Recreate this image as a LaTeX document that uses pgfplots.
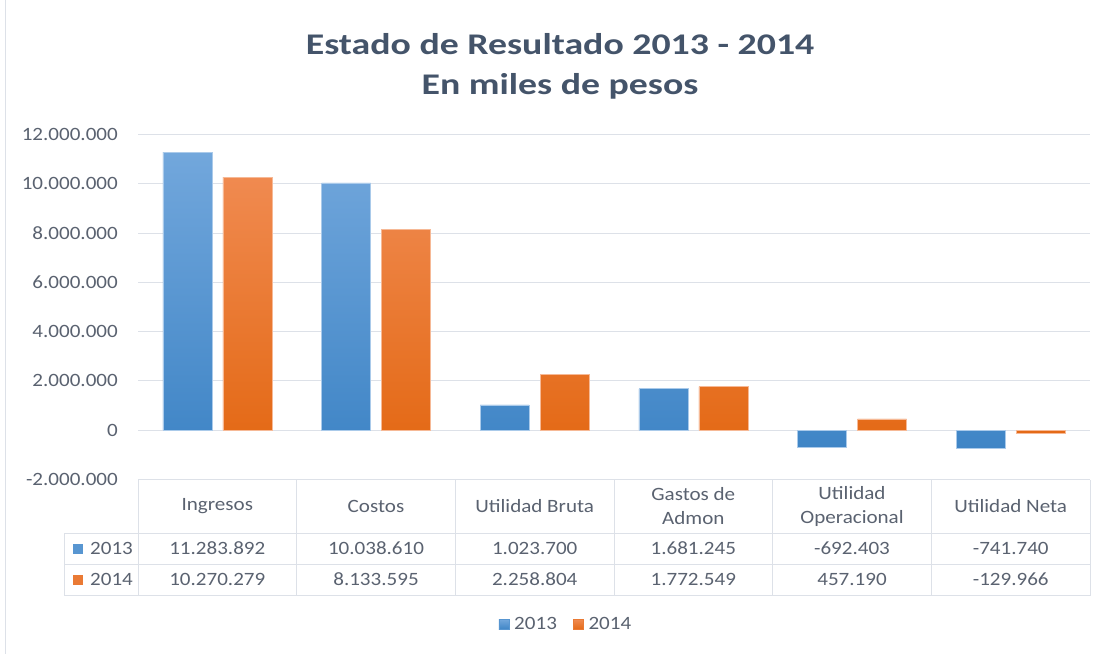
\documentclass[border=0pt]{standalone}
\usepackage{pgfplots}
\pgfplotsset{compat=1.18}
\usepackage{fontspec}
\setmainfont{Carlito}[FakeStretch=1.12]
\newfontfamily\titlefont{Carlito}[FakeStretch=1.26]
\definecolor{titlec}{HTML}{44546A}
\definecolor{textc}{HTML}{5A6270}
\definecolor{gridc}{HTML}{DDE1E8}
\definecolor{atop}{HTML}{72A7DC}
\definecolor{abot}{HTML}{3F85C6}
\definecolor{bTop}{HTML}{F08A50}
\definecolor{bBot}{HTML}{E46A17}
\newcommand{\tf}{\fontsize{18.8}{20}\selectfont}
\begin{document}
\begin{tikzpicture}[x=1pt,y=1pt]
\path[fill=white] (0,0) rectangle (1111,653);
\draw[gridc, line width=1pt] (5,0) -- (5,653);
\node[text=titlec, font=\titlefont\fontsize{30}{40}\selectfont\bfseries, align=center] at (560,587) {Estado de Resultado 2013 - 2014\\En miles de pesos};
\begin{axis}[
  at={(138pt,174pt)}, anchor=south west,
  width=952pt, height=345pt, scale only axis,
  xmin=-0.5, xmax=5.5, ymin=-2000000, ymax=12000000,
  ybar=11pt, bar width=49pt,
  axis line style={draw=none}, tick style={draw=none},
  xtick=\empty,
  ytick={-2000000,0,2000000,4000000,6000000,8000000,10000000,12000000},
  yticklabels={-2.000.000,0,2.000.000,4.000.000,6.000.000,8.000.000,10.000.000,12.000.000},
  scaled y ticks=false,
  yticklabel style={font=\tf, text=textc, anchor=east, inner sep=0pt, xshift=-20pt},
  ymajorgrids, grid style={gridc, line width=1pt},
  legend style={at={(rel axis cs:0.4495,-0.420)}, anchor=center, draw=none, fill=none,
    legend columns=2, font=\tf, text=textc,
    /tikz/every odd column/.append style={column sep=3pt},
    /tikz/every even column/.append style={column sep=14pt}},
  legend cell align=left,
]
\addplot[draw=atop!60!white, line width=0.6pt, top color=atop, bottom color=abot,
  legend image code/.code={\fill[atop!50!abot] (0pt,-5pt) rectangle (10pt,5pt);}]
  coordinates {(0,11283892) (1,10038610) (2,1023700) (3,1681245) (4,-692403) (5,-741740)};
\addplot[draw=bTop!60!white, line width=0.6pt, top color=bTop, bottom color=bBot,
  legend image code/.code={\fill[bTop!50!bBot] (0pt,-5pt) rectangle (10pt,5pt);}]
  coordinates {(0,10270279) (1,8133595) (2,2258804) (3,1772549) (4,457190) (5,-129966)};
\legend{2013,2014}
\end{axis}
% data table
\begin{scope}[gridc, line width=1pt]
\draw (138,174) -- (1090,174);
\draw (64,120) -- (1090,120);
\draw (64,89) -- (1090,89);
\draw (64,58) -- (1090,58);
\draw (64,58) -- (64,120);
\foreach \x in {138,296.7,455.3,614,772.7,931.3,1090} \draw (\x,58) -- (\x,174);
\end{scope}
\begin{scope}[every node/.style={font=\tf, text=textc, align=center}]
\node at (217.3,147) {Ingresos};
\node at (376,147) {Costos};
\node at (534.7,147) {Utilidad Bruta};
\node[font=\fontsize{18.8}{24}\selectfont] at (693.3,147) {Gastos de\\Admon};
\node[font=\fontsize{18.8}{24}\selectfont] at (852,147) {Utilidad\\Operacional};
\node at (1010.7,147) {Utilidad Neta};
\node at (217.3,105) {11.283.892};
\node at (376,105) {10.038.610};
\node at (534.7,105) {1.023.700};
\node at (693.3,105) {1.681.245};
\node at (852,105) {-692.403};
\node at (1010.7,105) {-741.740};
\node at (217.3,74) {10.270.279};
\node at (376,74) {8.133.595};
\node at (534.7,74) {2.258.804};
\node at (693.3,74) {1.772.549};
\node at (852,74) {457.190};
\node at (1010.7,74) {-129.966};
\node[anchor=west, inner sep=0pt] at (90,105) {2013};
\node[anchor=west, inner sep=0pt] at (90,74) {2014};
\end{scope}
\fill[atop!50!abot] (73,100) rectangle (83,110);
\fill[bTop!50!bBot] (73,69) rectangle (83,79);
\end{tikzpicture}
\end{document}
